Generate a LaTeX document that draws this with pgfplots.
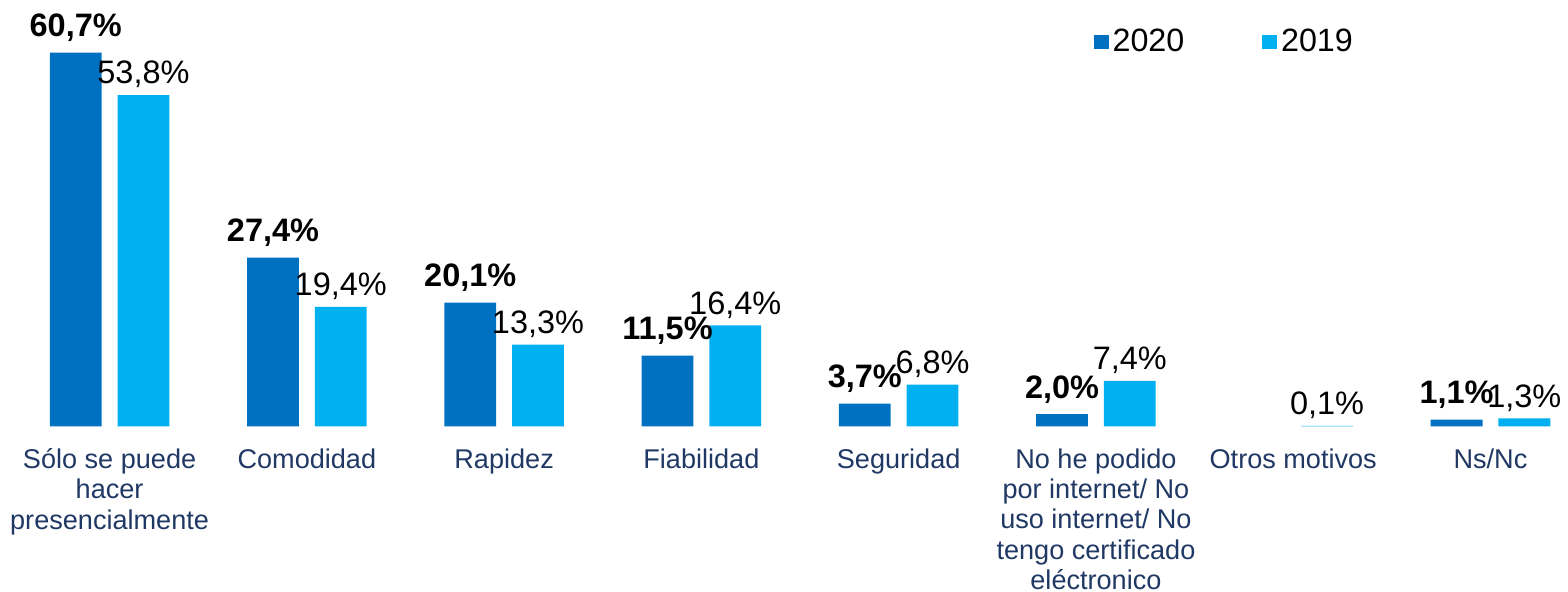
\documentclass[border=0pt]{standalone}
\usepackage{fontspec}
\setmainfont{Liberation Sans}
\usepackage{pgfplots}
\pgfplotsset{compat=1.18}
\definecolor{c2020}{HTML}{0070C0}
\definecolor{c2019}{HTML}{00B0F0}
\definecolor{navy}{HTML}{203864}
\begin{document}
\begin{tikzpicture}
\begin{axis}[
  scale only axis, width=784pt, height=297pt,
  xmin=-0.5556, xmax=7.3636, ymin=-26.86, ymax=69.26,
  ybar=8pt, bar width=26pt,
  axis line style={draw=none}, ytick=\empty,
  xtick={0,...,7}, major tick length=0pt, tick style={draw=none},
  xticklabels={{Sólo se puede\\hacer\\presencialmente},{Comodidad},{Rapidez},{Fiabilidad},{Seguridad},{No he podido\\por internet/ No\\uso internet/ No\\tengo certificado\\eléctronico},{Otros motivos},{Ns/Nc}},
  xticklabel style={anchor=north, yshift=72pt, inner sep=0pt, align=center, text=navy, font=\fontsize{13.6}{15.2}\selectfont},
  point meta=explicit symbolic,
  nodes near coords,
  every node near coord/.append style={text=black, font=\fontsize{16.3}{18}\selectfont},
  legend columns=2,
  legend style={draw=none, fill=none, at={(0.696,0.929)}, anchor=west, font=\fontsize{16.2}{18}\selectfont, /tikz/every even column/.append style={column sep=37pt}},
  legend image code/.code={\fill[#1] (0pt,-3.75pt) rectangle (7.5pt,3.75pt);},
  clip=false,
]
\addplot[fill=c2020, draw=none, every node near coord/.append style={font=\fontsize{16.3}{18}\selectfont\bfseries, yshift=2pt}] coordinates {
  (0,60.7) [60,7\%]
  (1,27.4) [27,4\%]
  (2,20.1) [20,1\%]
  (3,11.5) [11,5\%]
  (4,3.7) [3,7\%]
  (5,2.0) [2,0\%]
  (7,1.1) [1,1\%]
};
\addplot[fill=c2019, draw=none] coordinates {
  (0,53.8) [53,8\%]
  (1,19.4) [19,4\%]
  (2,13.3) [13,3\%]
  (3,16.4) [16,4\%]
  (4,6.8) [6,8\%]
  (5,7.4) [7,4\%]
  (6,0.1) [0,1\%]
  (7,1.3) [1,3\%]
};
\legend{2020,2019}
\end{axis}
\end{tikzpicture}
\end{document}
